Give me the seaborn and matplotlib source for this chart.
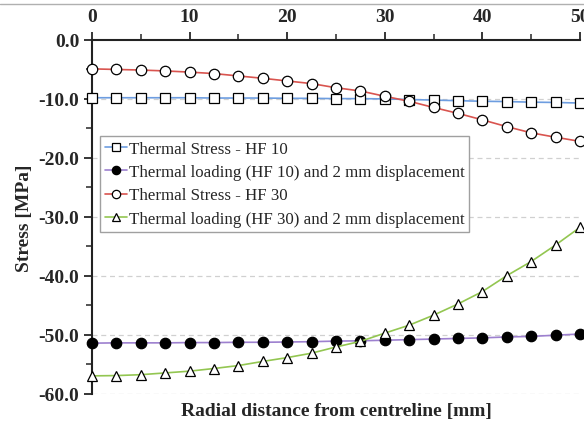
import matplotlib
matplotlib.use('Agg')
import matplotlib.pyplot as plt
from matplotlib.lines import Line2D
from matplotlib.ticker import MultipleLocator, FormatStrFormatter
import numpy as np
import pandas as pd
import seaborn as sns

# radial positions [mm]
radial = [0, 2.5, 5, 7.5, 10, 12.5, 15, 17.5, 20, 22.5, 25,
          27.5, 30, 32.5, 35, 37.5, 40, 42.5, 45, 47.5, 50]

# stress values [MPa]
hf10_thermal = [-9.8, -9.8, -9.8, -9.8, -9.8, -9.85, -9.85, -9.85, -9.9, -9.9, -9.95,
                -9.95, -10.0, -10.1, -10.2, -10.3, -10.4, -10.45, -10.55, -10.6, -10.7]
hf10_disp = [-51.45, -51.4, -51.4, -51.4, -51.35, -51.35, -51.3, -51.3, -51.25, -51.2, -51.1,
             -51.05, -50.95, -50.85, -50.75, -50.65, -50.55, -50.4, -50.3, -50.1, -49.9]
hf30_thermal = [-4.9, -5.0, -5.1, -5.25, -5.45, -5.7, -6.1, -6.5, -6.95, -7.4, -8.1,
                -8.65, -9.55, -10.4, -11.45, -12.45, -13.55, -14.7, -15.75, -16.5, -17.2]
hf30_disp = [-57.0, -56.95, -56.8, -56.5, -56.2, -55.75, -55.25, -54.55, -53.9, -53.15, -52.1,
             -51.15, -49.75, -48.4, -46.7, -44.8, -42.7, -40.0, -37.6, -34.8, -31.8]

labels = ['Thermal Stress - HF 10',
          'Thermal loading (HF 10) and 2 mm displacement',
          'Thermal Stress - HF 30',
          'Thermal loading (HF 30) and 2 mm displacement']
series = [hf10_thermal, hf10_disp, hf30_thermal, hf30_disp]
colors = ['#6d9de0', '#9d80cf', '#d9544f', '#93c651']
markers = ['s', 'o', 'o', '^']
faces = ['white', 'black', 'white', 'white']
msizes = [7.5, 7.5, 7.5, 6.5]

sns.set_style('white')
plt.rcParams['font.family'] = ['Liberation Serif', 'DejaVu Serif']
plt.rcParams['axes.unicode_minus'] = False

fig = plt.figure(figsize=(5.84, 4.27), dpi=100)
ax = fig.add_axes([0.1575, 0.076, 0.993 - 0.1575, 0.904 - 0.076])

for lab, vals, c, m, fc, ms in zip(labels, series, colors, markers, faces, msizes):
    df = pd.DataFrame({'x': radial, 'y': vals})
    sns.lineplot(data=df, x='x', y='y', ax=ax, color=c, linewidth=1.2,
                 marker=m, markersize=ms, markerfacecolor=fc,
                 markeredgecolor='black', markeredgewidth=0.9,
                 label=lab, clip_on=False, zorder=3)

ax.set_xlim(0, 50)
ax.set_ylim(-60, 0)

# axis on top, label at bottom
ax.xaxis.set_ticks_position('top')
ax.xaxis.set_label_position('bottom')
ax.xaxis.set_major_locator(MultipleLocator(10))
ax.xaxis.set_minor_locator(MultipleLocator(5))
ax.yaxis.set_major_locator(MultipleLocator(10))
ax.yaxis.set_minor_locator(MultipleLocator(5))
ax.yaxis.set_major_formatter(FormatStrFormatter('%.1f'))
ax.tick_params(which='major', direction='out', length=6, width=1.3, labelsize=14)
ax.tick_params(which='minor', direction='out', length=4, width=1.1)
ax.tick_params(axis='x', which='both', top=True, bottom=False, pad=5)
ax.tick_params(axis='y', which='both', left=True, right=False, pad=3)
for t in ax.get_xticklabels() + ax.get_yticklabels():
    t.set_fontweight('bold')

for s in ['right', 'bottom']:
    ax.spines[s].set_visible(False)
for s in ['top', 'left']:
    ax.spines[s].set_linewidth(1.5)
    ax.spines[s].set_color('#222222')

# dashed horizontal grid
for yv in [-10, -20, -30, -40, -50, -60]:
    ax.axhline(yv, color='#d0d0d0', linestyle=(0, (4, 3)), linewidth=0.9, zorder=1)

ax.set_xlabel('Radial distance from centreline [mm]', fontsize=14, fontweight='bold', labelpad=6)
ax.set_ylabel('Stress [MPa]', fontsize=14, fontweight='bold', labelpad=4)

leg = ax.legend(loc='upper left', bbox_to_anchor=(0.016, 0.728), borderaxespad=0,
                fontsize=12.2, frameon=True, fancybox=False, framealpha=1,
                edgecolor='#a0a0a0', handlelength=1.3, handletextpad=0.1,
                labelspacing=0.42, borderpad=0.3, markerscale=0.8)
leg.get_frame().set_linewidth(1.0)

# thin rule left from the page above the figure
fig.add_artist(Line2D([0, 1], [1 - 5 / 427] * 2, color='#b0b0b0', linewidth=1.0))

fig.savefig('out.png', dpi=100)
